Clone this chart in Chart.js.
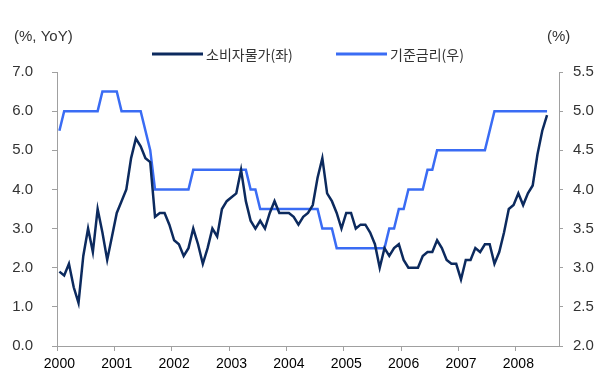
<!DOCTYPE html>
<html>
<head>
<meta charset="utf-8">
<script src="https://cdn.jsdelivr.net/npm/chart.js@4/dist/chart.umd.min.js"></script>
<style>
  html, body { margin: 0; padding: 0; background: #fff; }
  #wrap { width: 600px; height: 390px; }
</style>
</head>
<body>
<div id="wrap"><canvas id="cpiChart" width="600" height="390"></canvas></div>
<script>
// years shown on the x axis, monthly categories Jan 2000 .. Sep 2008
const years = ['2000', '2001', '2002', '2003', '2004', '2005', '2006', '2007', '2008'];
const lastMonth = 9; // axis runs through Sep 2008

// 소비자물가 (%, YoY), left axis, Jan 2000 .. Jul 2008
const cpi = [
    1.9, 1.8, 2.1, 1.5, 1.1, 2.3, 3.0, 2.4, 3.5, 2.9, 2.2, 2.8,
    3.4, 3.7, 4.0, 4.8, 5.3, 5.1, 4.8, 4.7, 3.3, 3.4, 3.4, 3.1,
    2.7, 2.6, 2.3, 2.5, 3.0, 2.6, 2.1, 2.5, 3.0, 2.8, 3.5, 3.7,
    3.8, 3.9, 4.5, 3.7, 3.2, 3.0, 3.2, 3.0, 3.4, 3.7, 3.4, 3.4,
    3.4, 3.3, 3.1, 3.3, 3.4, 3.6, 4.3, 4.8, 3.9, 3.7, 3.4, 3.0,
    3.4, 3.4, 3.0, 3.1, 3.1, 2.9, 2.6, 2.0, 2.5, 2.3, 2.5, 2.6,
    2.2, 2.0, 2.0, 2.0, 2.3, 2.4, 2.4, 2.7, 2.5, 2.2, 2.1, 2.1,
    1.7, 2.2, 2.2, 2.5, 2.4, 2.6, 2.6, 2.1, 2.4, 2.9, 3.5, 3.6,
    3.9, 3.6, 3.9, 4.1, 4.9, 5.5, 5.9
];

// 기준금리 (%), right axis, Jan 2000 .. Jul 2008
const baseRate = [
    4.75, 5, 5, 5, 5, 5, 5, 5, 5, 5.25, 5.25, 5.25,
    5.25, 5, 5, 5, 5, 5, 4.75, 4.5, 4, 4, 4, 4,
    4, 4, 4, 4, 4.25, 4.25, 4.25, 4.25, 4.25, 4.25, 4.25, 4.25,
    4.25, 4.25, 4.25, 4.25, 4, 4, 3.75, 3.75, 3.75, 3.75, 3.75, 3.75,
    3.75, 3.75, 3.75, 3.75, 3.75, 3.75, 3.75, 3.5, 3.5, 3.5, 3.25, 3.25,
    3.25, 3.25, 3.25, 3.25, 3.25, 3.25, 3.25, 3.25, 3.25, 3.5, 3.5, 3.75,
    3.75, 4, 4, 4, 4, 4.25, 4.25, 4.5, 4.5, 4.5, 4.5, 4.5,
    4.5, 4.5, 4.5, 4.5, 4.5, 4.5, 4.75, 5, 5, 5, 5, 5,
    5, 5, 5, 5, 5, 5, 5
];

const seriesNames = ['소비자물가(좌)', '기준금리(우)'];
const seriesColors = ['#0c2a5e', '#3a6cf4'];

const leftTicks = { min: 0, max: 7, step: 1 };
const rightTicks = { min: 2, max: 5.5, step: 0.5 };

// monthly category labels
const months = [];
years.forEach((y, yi) =>
{
    const count = (yi === years.length - 1) ? lastMonth : 12;
    for (let m = 1; m <= count; m++)
    {
        months.push(y + '-' + String(m).padStart(2, '0'));
    }
});

const axisGray = '#a0a0a0';
const textColor = '#333';
const numFont = { family: "'Liberation Sans', Arial, sans-serif", size: 15 };

// unit labels and legend drawn on top
const headerPlugin = {
    id: 'headerPlugin',
    afterDraw(chart)
    {
        const { ctx } = chart;
        ctx.save();
        ctx.fillStyle = textColor;
        ctx.textBaseline = 'middle';
        ctx.font = "15px 'Liberation Sans', Arial, sans-serif";
        ctx.textAlign = 'left';
        ctx.fillText('(%, YoY)', 14, 37);
        ctx.fillText('(%)', 547, 37);

        // legend
        const items = [
            { x: 152, text: seriesNames[0], color: seriesColors[0] },
            { x: 336, text: seriesNames[1], color: seriesColors[1] }
        ];
        ctx.font = "14px 'Noto Sans CJK KR', sans-serif";
        items.forEach(item =>
        {
            ctx.strokeStyle = item.color;
            ctx.lineWidth = 3;
            ctx.beginPath();
            ctx.moveTo(item.x, 54);
            ctx.lineTo(item.x + 51, 54);
            ctx.stroke();
            ctx.fillText(item.text, item.x + 54, 55);
        });
        ctx.restore();
    }
};

const ctx = document.getElementById('cpiChart').getContext('2d');

new Chart(ctx, {
    type: 'line',
    data: {
        labels: months,
        datasets: [
            {
                label: seriesNames[0],
                data: cpi,
                borderColor: seriesColors[0],
                backgroundColor: seriesColors[0],
                borderWidth: 2.5,
                pointRadius: 0,
                tension: 0,
                yAxisID: 'y'
            },
            {
                label: seriesNames[1],
                data: baseRate,
                borderColor: seriesColors[1],
                backgroundColor: seriesColors[1],
                borderWidth: 2.5,
                pointRadius: 0,
                tension: 0,
                yAxisID: 'y1'
            }
        ]
    },
    options: {
        responsive: false,
        animation: false,
        layout: {
            padding: { top: 72, left: 0, right: 0, bottom: 0 }
        },
        plugins: {
            legend: { display: false },
            tooltip: { enabled: false },
            title: { display: false }
        },
        scales: {
            x: {
                type: 'category',
                offset: true,
                border: { color: axisGray, width: 1 },
                grid: {
                    offset: true,
                    drawOnChartArea: false,
                    drawTicks: true,
                    tickLength: 5,
                    tickColor: (c) => (c.index % 12 === 0) ? axisGray : 'rgba(0,0,0,0)'
                },
                ticks: {
                    autoSkip: false,
                    maxRotation: 0,
                    minRotation: 0,
                    padding: 5,
                    color: '#000',
                    font: { family: "'Liberation Sans', Arial, sans-serif", size: 14 },
                    callback: (value, index) => (index % 12 === 0) ? years[index / 12] : ''
                },
                afterFit: (scale) => { scale.height = 44; }
            },
            y: {
                position: 'left',
                min: leftTicks.min,
                max: leftTicks.max,
                border: { color: axisGray, width: 1 },
                grid: {
                    drawOnChartArea: false,
                    drawTicks: true,
                    tickLength: 5,
                    tickColor: axisGray
                },
                ticks: {
                    stepSize: leftTicks.step,
                    padding: 19,
                    color: textColor,
                    font: numFont,
                    callback: (v) => Number(v).toFixed(1)
                },
                afterFit: (scale) => { scale.width = 57; }
            },
            y1: {
                position: 'right',
                min: rightTicks.min,
                max: rightTicks.max,
                border: { color: axisGray, width: 1 },
                grid: {
                    drawOnChartArea: false,
                    drawTicks: true,
                    tickLength: 4,
                    tickColor: axisGray
                },
                ticks: {
                    stepSize: rightTicks.step,
                    padding: 10,
                    color: textColor,
                    font: numFont,
                    callback: (v) => Number(v).toFixed(1)
                },
                afterFit: (scale) => { scale.width = 41; }
            }
        }
    },
    plugins: [headerPlugin]
});
</script>
</body>
</html>
